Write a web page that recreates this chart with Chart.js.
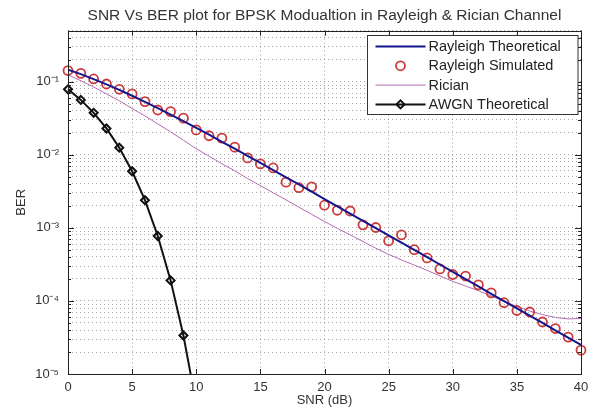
<!DOCTYPE html>
<html>
<head>
<meta charset="utf-8">
<script src="https://cdn.jsdelivr.net/npm/chart.js@4.4.0/dist/chart.umd.min.js"></script>
<style>
  html, body { margin: 0; padding: 0; background: #fff; }
</style>
</head>
<body>
<canvas id="berChart" width="597" height="414"></canvas>
<script>
// SNR axis (dB)
var snrDb = [0, 1, 2, 3, 4, 5, 6, 7, 8, 9, 10, 11, 12, 13, 14, 15, 16, 17, 18, 19, 20,
  21, 22, 23, 24, 25, 26, 27, 28, 29, 30, 31, 32, 33, 34, 35, 36, 37, 38, 39, 40];

var rayleighTheory = [0.146, 0.127, 0.1085, 0.0919, 0.0771, 0.0642, 0.053, 0.0435, 0.0355, 0.0288,
  0.0233, 0.0188, 0.0150, 0.0121, 0.00966, 0.00772, 0.00616, 0.00491, 0.00392, 0.00312,
  0.00248, 0.00197, 0.00157, 0.00125, 0.000993, 0.000789, 0.000627, 0.000498, 0.000396, 0.000315,
  0.00025, 0.000199, 0.000158, 0.000125, 0.0000995, 0.0000791, 0.0000628, 0.0000499, 0.0000396, 0.0000315,
  0.000025];

var rayleighSim = [0.142, 0.130, 0.109, 0.093, 0.0787, 0.068, 0.0534, 0.041, 0.039, 0.0317,
  0.0219, 0.0182, 0.0169, 0.0127, 0.00905, 0.0075, 0.0066, 0.00422, 0.00354, 0.00364,
  0.00204, 0.00174, 0.0017, 0.0011, 0.00101, 0.000665, 0.000803, 0.000502, 0.000387, 0.000274,
  0.00023, 0.000219, 0.000166, 0.000129, 0.0000945, 0.000074, 0.0000705, 0.0000515, 0.0000419, 0.000032,
  0.0000212];

var rician = [0.124, 0.103, 0.0846, 0.068, 0.0547, 0.043, 0.0339, 0.0265, 0.0206, 0.0158,
  0.0121, 0.00957, 0.00752, 0.00603, 0.00473, 0.00378, 0.00302, 0.00241, 0.00192, 0.00153,
  0.00122, 0.000985, 0.0008, 0.00065, 0.000526, 0.000434, 0.000364, 0.000309, 0.000262, 0.00022,
  0.000185, 0.00016, 0.000138, 0.000117, 0.0000985, 0.0000838, 0.0000728, 0.0000649, 0.0000594, 0.0000567,
  0.0000575];

var awgnSnr = [0, 1, 2, 3, 4, 5, 6, 7, 8, 9, 10];
var awgnTheory = [0.0786, 0.0563, 0.0375, 0.0229, 0.0125, 0.00595, 0.00239, 0.000773, 0.000191, 0.0000336, 0.00000387];

var xTicks = [0, 5, 10, 15, 20, 25, 30, 35, 40];
var yDecades = [1e-5, 1e-4, 1e-3, 1e-2, 1e-1];
var yLabels = ['10\u207B\u2075', '10\u207B\u2074', '10\u207B\u00B3', '10\u207B\u00B2', '10\u207B\u00B9'];
var yMin = 1e-5, yMax = 0.5;

var FONT = "'Liberation Sans', Arial, sans-serif";

function pairs(xs, ys) {
  return xs.map(function (x, i) { return { x: x, y: ys[i] }; });
}

// minor log grid values: 1..9 per decade, up to yMax
var yGridVals = [];
yDecades.forEach(function (d) {
  for (var m = 1; m <= 9; m++) {
    var v = m * d;
    if (v <= yMax * 1.0001) yGridVals.push(v);
  }
});

function decadeLabel(v) {
  for (var i = 0; i < yDecades.length; i++) {
    if (Math.abs(Math.log10(v) - Math.log10(yDecades[i])) < 1e-6) return yLabels[i];
  }
  return '';
}

// frame, inward ticks and the boxed legend (MATLAB style)
var matlabBox = {
  id: 'matlabBox',
  afterDraw: function (chart) {
    var ctx = chart.ctx, ca = chart.chartArea;
    var xs = chart.scales.x, ys = chart.scales.y;
    ctx.save();
    ctx.strokeStyle = '#222';
    ctx.lineWidth = 1;
    ctx.setLineDash([]);
    ctx.strokeRect(Math.round(ca.left) + 0.5, Math.round(ca.top) + 0.5,
      Math.round(ca.right - ca.left), Math.round(ca.bottom - ca.top));

    ctx.beginPath();
    xTicks.forEach(function (t) {
      var px = Math.round(xs.getPixelForValue(t)) + 0.5;
      ctx.moveTo(px, ca.bottom); ctx.lineTo(px, ca.bottom - 5);
      ctx.moveTo(px, ca.top); ctx.lineTo(px, ca.top + 5);
    });
    yGridVals.forEach(function (v) {
      var py = Math.round(ys.getPixelForValue(v)) + 0.5;
      var len = decadeLabel(v) ? 6 : 3;
      ctx.moveTo(ca.left, py); ctx.lineTo(ca.left + len, py);
      ctx.moveTo(ca.right, py); ctx.lineTo(ca.right - len, py);
    });
    ctx.stroke();

    // legend
    var bx = 367.5, by = Math.round(ca.top) + 4 + 0.5;
    var bw = Math.round(ca.right) - 3 - bx, bh = 79;
    ctx.fillStyle = '#fff';
    ctx.fillRect(bx, by, bw, bh);
    ctx.strokeStyle = '#333';
    ctx.strokeRect(bx, by, bw, bh);
    ctx.font = '14.5px ' + FONT;
    ctx.textBaseline = 'middle';
    ctx.textAlign = 'left';
    chart.data.datasets.forEach(function (ds, i) {
      var cy = by + 11 + i * 19.3;
      var x0 = bx + 8, x1 = bx + 58, xm = (x0 + x1) / 2;
      if (ds.showLine !== false) {
        ctx.strokeStyle = ds.borderColor;
        ctx.lineWidth = ds.borderWidth;
        ctx.beginPath(); ctx.moveTo(x0, cy); ctx.lineTo(x1, cy); ctx.stroke();
      }
      if (ds.pointRadius > 0) {
        ctx.fillStyle = 'rgba(0,0,0,0)';
        ctx.strokeStyle = ds.pointBorderColor;
        ctx.lineWidth = ds.pointBorderWidth;
        Chart.helpers.drawPoint(ctx, {
          pointStyle: ds.pointStyle, radius: ds.pointRadius, rotation: 0,
          borderWidth: ds.pointBorderWidth
        }, xm, cy);
      }
      ctx.fillStyle = '#222';
      ctx.fillText(ds.label, x1 + 3, cy + 0.5);
    });
    ctx.restore();
  }
};

var ctx = document.getElementById('berChart');
var chart = new Chart(ctx, {
  type: 'scatter',
  data: {
    datasets: [{
      label: 'Rayleigh Theoretical',
      data: pairs(snrDb, rayleighTheory),
      showLine: true,
      borderColor: '#15158c',
      borderWidth: 2,
      pointRadius: 0,
      order: 1
    }, {
      label: 'Rayleigh Simulated',
      data: pairs(snrDb, rayleighSim),
      showLine: false,
      pointStyle: 'circle',
      pointRadius: 4.5,
      pointBorderWidth: 1.8,
      pointBorderColor: '#cc3b3b',
      pointBackgroundColor: 'rgba(0,0,0,0)',
      borderColor: '#cc3b3b',
      clip: false,
      order: 2
    }, {
      label: 'Rician',
      data: pairs(snrDb, rician),
      showLine: true,
      borderColor: '#b56cb0',
      borderWidth: 1,
      pointRadius: 0,
      order: 3
    }, {
      label: 'AWGN Theoretical',
      data: pairs(awgnSnr, awgnTheory),
      showLine: true,
      borderColor: '#111',
      borderWidth: 2,
      pointStyle: 'rectRot',
      pointRadius: 4,
      pointBorderWidth: 2,
      pointBorderColor: '#111',
      pointBackgroundColor: 'rgba(0,0,0,0)',
      clip: { left: 6, right: 6, top: 6, bottom: 0 },
      order: 4
    }]
  },
  options: {
    responsive: false,
    animation: false,
    layout: { padding: { left: 0, right: 16, top: 0, bottom: 0 } },
    plugins: {
      legend: { display: false },
      tooltip: { enabled: false },
      title: {
        display: true,
        fullSize: false,
        text: 'SNR Vs BER plot for BPSK Modualtion in Rayleigh & Rician Channel',
        color: '#333',
        font: { family: FONT, size: 15.5, weight: 'normal' },
        padding: { top: 6, bottom: 6 }
      }
    },
    scales: {
      x: {
        type: 'linear',
        min: 0,
        max: 40,
        afterBuildTicks: function (s) { s.ticks = xTicks.map(function (v) { return { value: v }; }); },
        afterFit: function (s) { s.height = 40; },
        grid: { color: 'rgba(60,60,60,0.5)', lineWidth: 1, drawTicks: false },
        border: { display: false, dash: [1, 3] },
        ticks: { autoSkip: false, maxRotation: 0, padding: 6, color: '#333', font: { family: FONT, size: 13 } },
        title: { display: true, text: 'SNR (dB)', color: '#333', font: { family: FONT, size: 13 }, padding: { top: 0, bottom: 6 } }
      },
      y: {
        type: 'logarithmic',
        min: yMin,
        max: yMax,
        afterBuildTicks: function (s) { s.ticks = yGridVals.map(function (v) { return { value: v }; }); },
        afterFit: function (s) { s.width = 68; },
        grid: { color: 'rgba(60,60,60,0.45)', lineWidth: 1, drawTicks: false },
        border: { display: false, dash: [1, 3] },
        ticks: {
          autoSkip: false,
          padding: 9,
          color: '#333',
          font: { family: FONT, size: 13 },
          callback: function (v) { return decadeLabel(v); }
        },
        title: { display: true, text: 'BER', color: '#333', font: { family: FONT, size: 13 }, padding: { top: 14, bottom: 0 } }
      }
    }
  },
  plugins: [matlabBox]
});
</script>
</body>
</html>
